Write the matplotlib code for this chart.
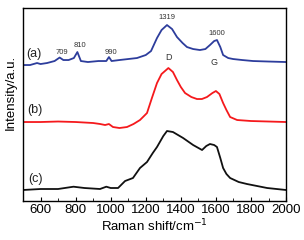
import matplotlib
matplotlib.use("Agg")
import matplotlib.pyplot as plt
from matplotlib.ticker import MultipleLocator

plt.rcParams['font.family'] = ['Liberation Sans', 'DejaVu Sans']

# Spectrum (a)
wn_a = [500, 540, 580, 600, 637, 680, 709, 730, 760, 790, 810, 830, 870, 930, 975, 990, 1005,
        1050, 1100, 1150, 1200, 1230, 1264, 1290, 1321, 1350, 1378, 1410, 1435, 1470, 1509,
        1540, 1566, 1590, 1606, 1625, 1641, 1670, 1698, 1750, 1812, 1900, 2000]
ya_pix = [65, 65, 63, 64, 63, 61, 57.5, 60, 60, 58, 52, 61, 62, 61, 61, 57, 61,
          60, 59, 58, 55, 51, 38, 30, 25, 29, 37, 43, 47, 49, 50,
          49, 45, 41, 40, 47, 55, 58, 59, 60, 61, 61.5, 62]
# Spectrum (b)
wn_b = [500, 600, 700, 800, 900, 940, 968, 990, 1013, 1050, 1093, 1130, 1167, 1190, 1207, 1235,
        1264, 1290, 1329, 1355, 1378, 1400, 1424, 1460, 1492, 1520, 1549, 1580, 1600, 1620,
        1641, 1660, 1681, 1721, 1800, 1900, 2000]
yb_pix = [122, 122, 121.5, 122, 123, 124, 125, 124, 127, 128, 127, 124, 120, 116, 113, 98,
          83, 74, 68, 72, 80, 87, 93, 97, 99, 99, 97, 93, 91, 94,
          103, 110, 117, 120, 121, 121.5, 122]
# Spectrum (c)
wn_c = [500, 600, 700, 788, 850, 939, 975, 1000, 1042, 1082, 1127, 1167, 1207, 1240, 1264, 1300,
        1321, 1355, 1413, 1470, 1521, 1545, 1566, 1590, 1606, 1625, 1641, 1660, 1681, 1730,
        1777, 1892, 2000]
yc_pix = [190, 189, 189, 186.7, 188, 189, 186.7, 188, 188, 181, 178, 168, 162, 153, 147, 136,
          131, 132, 138, 145, 150, 146, 144, 145, 147, 158, 168, 174, 178, 182,
          184, 188, 190]

peak_labels = ["709", "810", "990", "1319", "1600"]
peak_pos = [(722, 149), (825, 156), (1002, 149), (1321, 184), (1606, 168)]
band_labels = ["D", "G"]
band_pos = [(1327, 144), (1589, 139)]
curve_labels = ["(a)", "(b)", "(c)"]
curve_pos = [(560, 147), (566, 91), (571, 22)]

def val(ys):
    return [201 - y for y in ys]

fig = plt.figure(figsize=(3.04, 2.40), dpi=100)
ax = fig.add_axes([0.0757, 0.1625, 0.8653, 0.804])

ax.plot(wn_a, val(ya_pix), color='#2d3d9c', lw=1.3)
ax.plot(wn_b, val(yb_pix), color='#f5191c', lw=1.3)
ax.plot(wn_c, val(yc_pix), color='#111111', lw=1.3)

for t, (x, y) in zip(peak_labels, peak_pos):
    ax.text(x, y, t, fontsize=5.5, ha='center', va='center', color='#333333')
for t, (x, y) in zip(band_labels, band_pos):
    ax.text(x, y, t, fontsize=6.5, ha='center', va='center', color='#333333')
for t, (x, y) in zip(curve_labels, curve_pos):
    ax.text(x, y, t, fontsize=9, ha='center', va='center', color='#222222')

ax.set_xlim(500, 2000)
ax.set_ylim(0, 193)
ax.xaxis.set_major_locator(MultipleLocator(200))
ax.xaxis.set_minor_locator(MultipleLocator(100))
ax.tick_params(axis='x', which='both', direction='in', labelsize=9.5, pad=2.5)
ax.tick_params(axis='x', which='major', length=3)
ax.tick_params(axis='x', which='minor', length=2)
ax.set_yticks([])
for s in ax.spines.values():
    s.set_linewidth(1.0)
ax.set_xlabel('Raman shift/cm$^{-1}$', fontsize=9.5, labelpad=1)
ax.set_ylabel('Intensity/a.u.', fontsize=9.5)
ax.yaxis.set_label_coords(-0.022, 0.565)

fig.savefig('out.png', dpi=100)
